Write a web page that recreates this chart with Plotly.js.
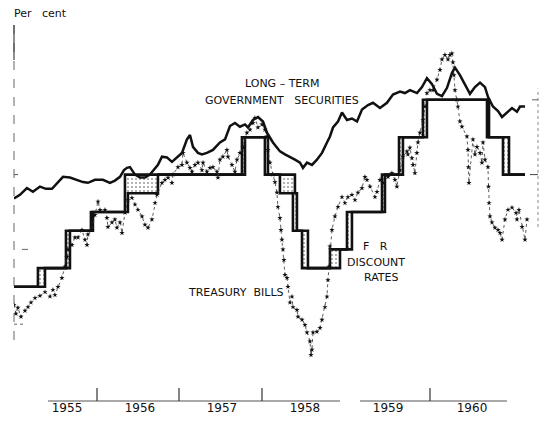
<!DOCTYPE html>
<html>
<head>
<meta charset="utf-8">
<script src="https://cdn.plot.ly/plotly-3.0.1.min.js"></script>
<style>html,body{margin:0;padding:0;background:#fff}#chart{width:548px;height:423px}</style>
</head>
<body>
<div id="chart"></div>
<script>
// Year labels
const yearLabels = ['1955','1956','1957','1958','1959','1960'];

// Long-term government securities yield (per cent), dates as decimal years
const ltDate = [1954.981,1955.049,1955.129,1955.198,1955.278,1955.347,1955.416,1955.473,1955.542,1955.622,
1955.702,1955.771,1955.828,1955.908,1956.000,1956.080,1956.137,1956.195,1956.241,1956.275,
1956.309,1956.367,1956.424,1956.481,1956.538,1956.596,1956.630,1956.676,1956.733,1956.790,
1956.848,1956.905,1956.962,1956.997,1957.031,1957.088,1957.134,1957.191,1957.260,1957.340,
1957.398,1957.455,1957.512,1957.569,1957.627,1957.661,1957.718,1957.776,1957.833,1957.879,
1957.947,1958.028,1958.085,1958.142,1958.199,1958.257,1958.291,1958.337,1958.394,1958.451,
1958.509,1958.566,1958.600,1958.635,1958.692,1958.738,1958.795,1958.852,1958.910,1958.967,
1959.036,1959.093,1959.173,1959.253,1959.322,1959.402,1959.459,1959.517,1959.597,1959.654,
1959.711,1959.769,1959.826,1959.883,1959.941,1959.998,1960.032,1960.089,1960.147,1960.204,
1960.261,1960.319,1960.376,1960.410,1960.467,1960.525,1960.571,1960.628,1960.685,1960.742,
1960.777,1960.834];
const ltRate = [2.68,2.73,2.82,2.77,2.84,2.81,2.81,2.88,2.97,2.96,
2.93,2.90,2.89,2.93,2.93,2.89,2.92,2.97,3.06,3.09,
3.10,3.00,2.96,2.96,3.00,3.09,3.13,3.24,3.23,3.17,
3.23,3.29,3.47,3.53,3.37,3.29,3.27,3.29,3.33,3.43,
3.47,3.65,3.69,3.64,3.67,3.63,3.73,3.77,3.71,3.56,
3.43,3.31,3.27,3.24,3.20,3.16,3.09,3.16,3.13,3.20,
3.29,3.43,3.51,3.63,3.71,3.83,3.73,3.75,3.71,3.87,
3.93,3.96,3.89,3.96,4.07,4.11,4.09,4.13,4.09,4.17,
4.29,4.21,4.08,4.05,4.16,4.36,4.43,4.33,4.21,4.08,
4.17,4.23,4.17,4.04,3.91,3.85,3.77,3.83,3.89,3.84,
3.91,3.91];

// Treasury bills yield (per cent)
const billDate = [1954.981,1955.003,1955.026,1955.061,1955.107,1955.141,1955.175,1955.221,1955.278,1955.336,
1955.393,1955.427,1955.450,1955.485,1955.530,1955.565,1955.588,1955.599,1955.645,1955.679,
1955.714,1955.759,1955.794,1955.817,1955.828,1955.874,1955.908,1955.943,1955.966,1956.023,
1956.046,1956.057,1956.103,1956.137,1956.160,1956.195,1956.218,1956.252,1956.286,1956.332,
1956.367,1956.401,1956.447,1956.481,1956.516,1956.561,1956.596,1956.619,1956.676,1956.710,
1956.745,1956.790,1956.802,1956.859,1956.905,1956.916,1956.962,1956.997,1957.020,1957.054,
1957.088,1957.134,1957.146,1957.191,1957.226,1957.260,1957.306,1957.317,1957.340,1957.374,
1957.420,1957.432,1957.478,1957.512,1957.535,1957.569,1957.604,1957.649,1957.684,1957.718,
1957.741,1957.775,1957.821,1957.855,1957.878,1957.890,1957.913,1957.947,1957.970,1957.993,
1958.004,1958.027,1958.039,1958.050,1958.062,1958.073,1958.085,1958.108,1958.119,1958.142,
1958.165,1958.176,1958.222,1958.234,1958.280,1958.314,1958.337,1958.371,1958.383,1958.394,
1958.406,1958.451,1958.486,1958.509,1958.543,1958.566,1958.577,1958.589,1958.600,1958.623,
1958.657,1958.692,1958.738,1958.772,1958.806,1958.852,1958.887,1958.921,1958.967,1959.001,
1959.024,1959.059,1959.116,1959.139,1959.173,1959.207,1959.265,1959.310,1959.345,1959.367,
1959.402,1959.436,1959.482,1959.493,1959.516,1959.539,1959.551,1959.573,1959.596,1959.608,
1959.631,1959.665,1959.688,1959.711,1959.745,1959.780,1959.826,1959.860,1959.883,1959.917,
1959.952,1959.974,1959.997,1960.009,1960.020,1960.032,1960.055,1960.066,1960.089,1960.112,
1960.169,1960.181,1960.186,1960.192,1960.238,1960.261,1960.284,1960.319,1960.341,1960.353,
1960.376,1960.410,1960.416,1960.422,1960.433,1960.456,1960.490,1960.525,1960.548,1960.571,
1960.605,1960.639,1960.685,1960.731,1960.742,1960.765,1960.800,1960.834,1960.857];
const billRate = [1.26,1.14,1.22,1.10,1.18,1.23,1.29,1.35,1.38,1.43,
1.37,1.46,1.39,1.50,1.62,1.77,1.90,2.00,2.06,2.16,
2.16,2.26,2.13,2.06,2.20,2.26,2.46,2.64,2.53,2.53,
2.42,2.30,2.36,2.40,2.29,2.36,2.22,2.49,2.66,2.69,
2.60,2.53,2.44,2.33,2.29,2.40,2.62,2.73,2.89,2.93,
2.96,2.89,3.00,3.10,3.13,3.29,3.16,3.09,3.04,3.13,
3.16,3.06,3.16,3.04,3.09,3.10,3.04,2.96,3.20,3.24,
3.33,3.24,3.13,3.04,3.20,3.29,3.36,3.56,3.60,3.69,
3.76,3.63,3.67,3.60,3.51,3.33,3.16,3.00,2.90,2.76,
2.57,2.42,2.26,2.13,2.00,1.86,1.66,1.62,1.50,1.29,
1.37,1.23,1.19,1.10,1.06,0.99,0.89,0.77,0.59,0.66,
0.89,0.90,0.95,1.06,1.23,1.37,1.59,1.77,2.04,2.26,
2.44,2.57,2.70,2.62,2.70,2.73,2.66,2.76,2.82,2.97,
2.93,2.84,2.70,2.77,2.93,2.89,2.97,3.02,2.93,2.84,
3.06,3.24,3.31,3.27,3.36,3.22,3.13,3.02,3.29,3.43,
3.56,3.73,3.91,4.09,4.13,4.13,4.27,4.40,4.54,4.60,
4.54,4.60,4.62,4.50,4.33,4.13,4.00,3.91,3.71,3.64,
3.51,3.33,3.10,2.89,3.47,3.27,3.37,3.29,3.16,3.43,
3.20,3.10,2.84,2.62,2.44,2.36,2.29,2.26,2.22,2.13,
2.40,2.53,2.56,2.49,2.40,2.53,2.30,2.13,2.40];

// F.R. discount rates: highest and lowest among Reserve Banks (step changes)
const discHighDate = [1954.981,1955.255,1955.576,1955.862,1956.252,1957.592,1957.890,1958.199,1958.222,1958.348,1958.600,1958.795,1959.196,1959.391,1959.665,1960.422,1960.651,1960.834];
const discHigh = [1.5,1.75,2.25,2.5,3.0,3.5,3.0,2.75,2.25,1.75,2.0,2.5,3.0,3.5,4.0,3.5,3.0,3.0];
const discLowDate = [1954.981,1955.336,1955.622,1955.885,1956.286,1956.630,1957.627,1957.855,1958.027,1958.176,1958.280,1958.715,1958.852,1959.230,1959.436,1959.711,1960.399,1960.582,1960.834];
const discLow = [1.5,1.75,2.25,2.5,2.75,3.0,3.5,3.0,2.75,2.25,1.75,2.0,2.5,3.0,3.5,4.0,3.5,3.0,3.0];

const FONT = 'DejaVu Sans, Liberation Sans, sans-serif';

const traces = [
  {x: discLowDate, y: discLow, type:'scatter', mode:'lines',
   line:{shape:'hv', color:'#111', width:2.6}, hoverinfo:'skip'},
  {x: discHighDate, y: discHigh, type:'scatter', mode:'lines', fill:'tonexty',
   fillcolor:'rgba(0,0,0,0.06)',
   fillpattern:{shape:'.', fgcolor:'#999', bgcolor:'rgba(255,255,255,0)', size:4, solidity:0.2},
   line:{shape:'hv', color:'#111', width:2.6}, hoverinfo:'skip'},
  {x: billDate, y: billRate, type:'scatter', mode:'lines+markers',
   line:{color:'#333', width:0.8, dash:'dot'},
   marker:{symbol:'star', size:4, color:'#111'}, hoverinfo:'skip'},
  {x: ltDate, y: ltRate, type:'scatter', mode:'lines',
   line:{color:'#111', width:2.5}, hoverinfo:'skip'}
];

function px2paper(px){ return (px-14)/526; }
function py2paper(py){ return (399-py)/374; }

const shapes = [];
// broken x axis line
[[48,340],[360,507]].forEach(s=>shapes.push({type:'line', xref:'paper', yref:'paper',
  x0:px2paper(s[0]), x1:px2paper(s[1]), y0:py2paper(401), y1:py2paper(401),
  line:{color:'#555', width:1}}));
// x tick marks
[97,179,262,430].forEach(p=>shapes.push({type:'line', xref:'paper', yref:'paper',
  x0:px2paper(p), x1:px2paper(p), y0:py2paper(401), y1:py2paper(388),
  line:{color:'#333', width:1.2}}));
// left axis line
shapes.push({type:'line', xref:'paper', yref:'paper', x0:0, x1:0, y0:py2paper(340), y1:1,
  line:{color:'#666', width:1, dash:'dash'}});
shapes.push({type:'line', xref:'paper', yref:'paper', x0:0, x1:0, y0:py2paper(60), y1:1,
  line:{color:'#444', width:1.2}});
// left ticks
shapes.push({type:'line', xref:'paper', yref:'y', x0:0, x1:px2paper(18), y0:3, y1:3, line:{color:'#555', width:1}});
shapes.push({type:'line', xref:'paper', yref:'y', x0:px2paper(22), x1:px2paper(28), y0:2, y1:2, line:{color:'#666', width:1}});
shapes.push({type:'line', xref:'paper', yref:'y', x0:0, x1:px2paper(24), y0:1, y1:1, line:{color:'#666', width:1, dash:'dot'}});
// right axis fragments
shapes.push({type:'line', xref:'paper', yref:'y', x0:px2paper(538), x1:px2paper(538), y0:2.3, y1:4.15,
  line:{color:'#888', width:1, dash:'dot'}});
shapes.push({type:'line', xref:'paper', yref:'y', x0:px2paper(532), x1:px2paper(538), y0:4, y1:4, line:{color:'#666', width:1}});
shapes.push({type:'line', xref:'paper', yref:'y', x0:px2paper(530), x1:px2paper(538), y0:3, y1:3, line:{color:'#444', width:1}});

function ann(text, px, py, size, anchor){
  return {text:text, xref:'paper', yref:'paper', x:px2paper(px), y:py2paper(py),
    xanchor:anchor||'center', yanchor:'middle', showarrow:false,
    font:{family:FONT, size:size||11, color:'#111'}};
}

const annotations = [
  ann('Per&nbsp;&nbsp;&nbsp;cent', 12, 13, 11, 'left'),
  ann('LONG – TERM', 282, 84),
  ann('GOVERNMENT&nbsp;&nbsp;&nbsp;SECURITIES', 282, 100),
  ann('F&nbsp;&nbsp;&nbsp;R', 375, 247),
  ann('DISCOUNT', 376, 262),
  ann('RATES', 381, 277),
  ann('TREASURY&nbsp;&nbsp;BILLS', 236, 292)
];

const layout = {
  width:548, height:423,
  margin:{l:14, r:8, t:25, b:24},
  paper_bgcolor:'#fff', plot_bgcolor:'#fff',
  showlegend:false,
  xaxis:{type:'linear', range:[1954.981, 1961.006], showgrid:false, zeroline:false, showline:false,
    ticks:'', tickvals:[1955.588,1956.424,1957.363,1958.314,1959.265,1960.227], ticktext:yearLabels,
    tickfont:{family:FONT, size:12, color:'#111'}, fixedrange:true},
  yaxis:{range:[0,5], showgrid:false, zeroline:false, showline:false, showticklabels:false, ticks:'', fixedrange:true},
  shapes:shapes,
  annotations:annotations
};

Plotly.newPlot('chart', traces, layout, {staticPlot:true, displayModeBar:false});
</script>
</body>
</html>
